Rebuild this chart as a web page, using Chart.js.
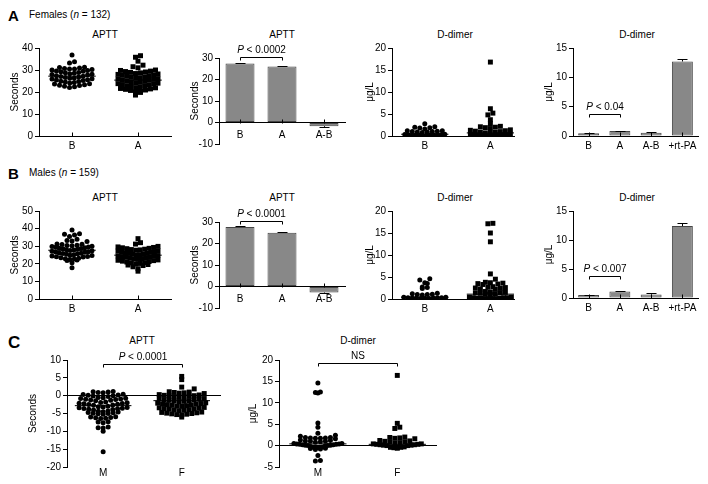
<!DOCTYPE html>
<html>
<head>
<meta charset="utf-8">
<script src="https://cdn.jsdelivr.net/npm/chart.js@4.4.0/dist/chart.umd.min.js"></script>
<style>
  body { margin: 0; background: #fff; }
  #fig { position: relative; width: 708px; height: 484px; font-family: "Liberation Sans", Arial, sans-serif; color: #000; overflow: hidden; }
  #fig canvas { position: absolute; }
  .lt { position: absolute; transform: translateY(-50%); font-size: 10px; line-height: 1; white-space: nowrap; }
  .ct { position: absolute; transform: translate(-50%, -50%); font-size: 10px; line-height: 1; white-space: nowrap; }
  .big { font-size: 15px; font-weight: bold; }
</style>
</head>
<body>
<div id="fig">
  <div class="lt big" style="left:8px;top:15px">A</div>
  <div class="lt" style="left:29px;top:15px">Females (<i>n</i> = 132)</div>
  <div class="lt big" style="left:8px;top:173px">B</div>
  <div class="lt" style="left:29px;top:173px">Males (<i>n</i> = 159)</div>
  <div class="lt big" style="left:8px;top:342px;font-size:17px">C</div>

  <div class="ct" style="left:105px;top:35px">APTT</div>
  <div class="ct" style="left:282px;top:35px">APTT</div>
  <div class="ct" style="left:455px;top:35px">D-dimer</div>
  <div class="ct" style="left:637px;top:35px">D-dimer</div>
  <div class="ct" style="left:105px;top:198px">APTT</div>
  <div class="ct" style="left:282px;top:198px">APTT</div>
  <div class="ct" style="left:455px;top:198px">D-dimer</div>
  <div class="ct" style="left:637px;top:198px">D-dimer</div>
  <div class="ct" style="left:142px;top:341px">APTT</div>
  <div class="ct" style="left:358px;top:341px">D-dimer</div>
</div>
<script>
const FONT = { family: '"Liberation Sans", Arial, sans-serif', size: 10 };
const DOT_STEP = 5;
const ROW_H = 4.6;

// categories
const groupsBA = ['B', 'A'];
const groupsMF = ['M', 'F'];
const barCats = ['B', 'A', 'A-B'];
const barCatsTpa = ['B', 'A', 'A-B', '+rt-PA'];

// Females (n = 132) - APTT, seconds
const femApttB = [22.1, 22.4, 22.6, 22.9, 23.1, 23.3, 23.6, 23.8, 24.1, 24.3, 24.5, 24.8, 24.9, 25.2, 25.4, 25.6, 25.9,
  26.0, 26.2, 26.4, 26.6, 26.8, 27.0, 27.2, 27.4, 27.7, 27.9, 28.1, 28.3, 28.5, 28.7, 28.9, 29.2, 29.4, 29.6, 29.8,
  30.0, 30.2, 30.4, 30.5, 30.7, 30.9, 31.1, 31.3, 33.2, 33.8, 36.8];
const femApttA = [18.6, 19.8, 20.2, 20.4, 20.7, 20.9, 21.2, 21.4, 21.6, 21.9, 22.0, 22.3, 22.5, 22.7, 22.9, 23.1, 23.4,
  23.6, 23.8, 24.0, 24.2, 24.4, 24.6, 24.8, 25.1, 25.3, 25.5, 25.7, 25.9, 26.1, 26.3, 26.5, 26.7, 26.9, 27.2, 27.4,
  27.6, 27.8, 28.0, 28.2, 28.4, 28.7, 28.9, 29.1, 29.3, 29.5, 29.8, 30.0, 31.0, 31.5, 32.2, 34.0, 35.8, 36.5];
const femApttMean = [27.2, 25.4];
const femApttBar = [27.4, 26.1, -1.7];
const femApttSem = [0.3, 0.3, 0.3];
const femApttSig = ['P', '< 0.0002', 30.3];

// Females - D-dimer, ug/L
const femDdB = [0.1, 0.1, 0.15, 0.2, 0.2, 0.2, 0.25, 0.3, 0.3, 0.3, 0.35, 0.4, 0.8, 0.9, 0.9, 1.0, 1.0, 1.1, 1.2, 1.2,
  1.6, 1.8, 1.9, 2.0, 2.1, 2.8];
const femDdA = [0.1, 0.1, 0.1, 0.2, 0.2, 0.2, 0.2, 0.3, 0.3, 0.3, 0.4, 0.4, 0.6, 0.7, 0.8, 0.9, 1.0, 1.1, 1.2, 1.3, 1.4,
  1.7, 1.9, 2.0, 2.1, 2.2, 2.8, 3.7, 4.8, 5.2, 6.2, 16.8];
const femDdMean = [0.4, 0.7];
const femDdBar = [0.45, 0.85, 0.55, 12.7];
const femDdSem = [0.08, 0.08, 0.1, 0.5];
const femDdSig = ['P', '< 0.04', 3.75];

// Males (n = 159) - APTT, seconds
const malApttB = [17.8, 20.6, 21.9, 22.2, 22.4, 22.7, 22.9, 23.2, 23.5, 23.8, 24.0, 24.2, 24.5, 24.7, 24.9, 25.2, 25.4,
  25.7, 25.9, 26.0, 26.2, 26.5, 26.7, 26.9, 27.1, 27.4, 27.6, 27.8, 28.0, 28.2, 28.5, 28.7, 28.9, 29.1, 29.4, 29.6,
  29.9, 30.0, 30.2, 30.4, 30.6, 30.9, 31.1, 31.3, 32.6, 33.0, 33.3, 34.0, 35.5, 36.3, 36.8, 37.1, 39.2];
const malApttA = [15.8, 17.2, 18.3, 19.0, 19.3, 19.6, 19.9, 20.2, 20.5, 20.7, 21.0, 21.3, 21.5, 21.8, 22.0, 22.2, 22.5,
  22.7, 23.0, 23.2, 23.5, 23.7, 23.9, 24.1, 24.3, 24.5, 24.7, 25.0, 25.2, 25.4, 25.6, 25.9, 26.0, 26.3, 26.5, 26.7,
  26.9, 27.2, 27.4, 27.7, 27.9, 28.1, 28.3, 28.6, 28.8, 29.1, 29.3, 29.6, 29.9, 31.2, 32.0, 34.3];
const malApttMean = [27.7, 24.9];
const malApttBar = [27.7, 25.0, -2.8];
const malApttSem = [0.3, 0.3, 0.3];
const malApttSig = ['P', '< 0.0001', 30.4];

// Males - D-dimer, ug/L
const malDdB = [0.1, 0.1, 0.1, 0.2, 0.2, 0.2, 0.3, 0.3, 0.3, 0.4, 0.4, 0.9, 1.0, 1.0, 1.1, 1.2, 1.3, 2.4, 2.6, 2.7,
  3.5, 3.7, 4.3, 4.6];
const malDdA = [0.1, 0.1, 0.1, 0.1, 0.2, 0.2, 0.2, 0.3, 0.3, 0.3, 0.4, 0.4, 1.0, 1.1, 1.2, 1.3, 1.4, 1.4, 1.5, 1.6, 1.7,
  2.2, 2.3, 2.4, 2.5, 2.6, 2.7, 2.8, 3.3, 3.4, 3.5, 3.6, 3.7, 3.8, 4.5, 5.7, 13.0, 15.0, 17.1, 17.2];
const malDdMean = [0.4, 1.1];
const malDdBar = [0.5, 1.1, 0.6, 12.4];
const malDdSem = [0.1, 0.1, 0.2, 0.5];
const malDdSig = ['P', '< 0.007', 3.8];

// C: change A-B, males vs females
const diffApttM = [-15.7, -10.0, -9.1, -9.0, -8.8, -7.6, -7.4, -7.3, -6.4, -6.3, -6.2, -6.1, -6.0, -5.9, -5.2, -5.1, -5.0,
  -4.9, -4.8, -4.7, -4.6, -4.5, -4.4, -4.3, -4.0, -3.9, -3.8, -3.7, -3.6, -3.5, -3.4, -3.3, -3.2, -3.1, -3.0, -2.7,
  -2.6, -2.5, -2.4, -2.3, -2.2, -2.1, -2.0, -1.9, -1.8, -1.4, -1.3, -1.2, -1.1, -1.0, -0.9, -0.8, -0.7, -0.6, -0.5,
  -0.2, -0.1, 0.0, 0.1, 0.2, 0.3, 0.4, 0.8, 0.9, 1.0, 1.1, 1.2];
const diffApttF = [-6.0, -5.4, -5.3, -5.2, -5.1, -5.0, -4.9, -4.8, -4.7, -4.6, -4.2, -4.1, -4.0, -3.9, -3.8, -3.7, -3.6,
  -3.5, -3.4, -3.3, -3.0, -2.9, -2.8, -2.7, -2.6, -2.5, -2.4, -2.3, -2.2, -2.1, -2.0, -1.7, -1.6, -1.5, -1.4, -1.3,
  -1.2, -1.1, -1.0, -0.9, -0.8, -0.5, -0.4, -0.3, -0.2, -0.1, 0.0, 0.1, 0.2, 0.3, 0.6, 0.7, 0.8, 0.9, 1.0, 1.1, 1.9,
  2.4, 4.5, 5.4];
const diffApttMean = [-2.8, -1.4];
const diffApttSig = ['P', '< 0.0001', 9.0];

const diffDdM = [-3.6, -3.5, -2.3, -0.9, -0.8, -0.7, -0.6, -0.5, -0.4, -0.4, -0.3, -0.2, -0.1, 0.0, 0.0, 0.1, 0.1, 0.2,
  0.2, 0.3, 0.3, 0.4, 0.4, 0.5, 0.5, 0.8, 0.9, 1.0, 1.0, 1.1, 1.2, 1.3, 1.6, 1.7, 1.7, 1.8, 1.8, 1.9, 1.9, 2.2, 2.4,
  2.9, 4.3, 5.3, 12.3, 12.4, 12.5, 14.6];
const diffDdF = [-0.6, -0.5, -0.5, -0.4, -0.4, -0.3, 0.0, 0.0, 0.1, 0.1, 0.2, 0.2, 0.3, 0.3, 0.4, 0.4, 0.6, 0.7, 0.8,
  0.9, 1.0, 1.1, 1.2, 1.6, 1.7, 1.8, 1.9, 2.0, 4.0, 4.3, 5.2, 16.4];
const diffDdMean = [0.4, 0.3];
const diffDdSig = ['', 'NS', 19.3];

function line(ctx, x1, y1, x2, y2) {
  ctx.beginPath();
  ctx.moveTo(x1, y1);
  ctx.lineTo(x2, y2);
  ctx.stroke();
}

// error bars, upward x ticks, significance brackets
const extras = {
  id: 'extras',
  defaults: {},
  afterDatasetsDraw(chart, args, opts) {
    const ctx = chart.ctx, xs = chart.scales.x, ys = chart.scales.y;
    ctx.save();
    ctx.strokeStyle = '#000';
    ctx.fillStyle = '#000';
    ctx.lineWidth = 1;
    if (opts.sem) {
      const vals = chart.data.datasets[0].data;
      chart.getDatasetMeta(0).data.forEach((bar, i) => {
        const v = vals[i], dir = v < 0 ? -1 : 1;
        const x = Math.round(bar.x) + 0.5;
        const y1 = ys.getPixelForValue(v);
        const y2 = Math.round(ys.getPixelForValue(v + dir * opts.sem[i])) + 0.5;
        line(ctx, x, y1, x, y2);
        line(ctx, x - 5, y2, x + 5, y2);
      });
    }
    if (opts.ticksUp) {
      const y0 = Math.round(ys.getPixelForValue(0)) + 0.5;
      xs.ticks.forEach((t, i) => {
        const x = Math.round(xs.getPixelForTick(i)) + 0.5;
        line(ctx, x, y0, x, y0 - 4);
      });
    }
    if (opts.sig) {
      const [p, txt, yv] = opts.sig;
      const xa = Math.round(xs.getPixelForValue(opts.sigAt[0])) + 0.5;
      const xb = Math.round(xs.getPixelForValue(opts.sigAt[1])) + 0.5;
      const yb = Math.round(ys.getPixelForValue(yv)) + 0.5;
      ctx.beginPath();
      ctx.moveTo(xa, yb + 3);
      ctx.lineTo(xa, yb);
      ctx.lineTo(xb, yb);
      ctx.lineTo(xb, yb + 3);
      ctx.stroke();
      ctx.textBaseline = 'middle';
      const fam = '10px "Liberation Sans", Arial, sans-serif';
      ctx.font = 'italic ' + fam;
      const wp = p ? ctx.measureText(p + ' ').width : 0;
      ctx.font = fam;
      const wt = ctx.measureText(txt).width;
      const sx = (xa + xb) / 2 - (wp + wt) / 2, ty = yb - 7;
      if (p) {
        ctx.font = 'italic ' + fam;
        ctx.fillText(p, sx, ty);
        ctx.font = fam;
      }
      ctx.fillText(txt, sx + wp, ty);
    }
    ctx.restore();
  }
};
Chart.register(extras);

function makeCanvas(left, top, width, height) {
  const c = document.createElement('canvas');
  c.width = width;
  c.height = height;
  c.style.left = left + 'px';
  c.style.top = top + 'px';
  document.getElementById('fig').appendChild(c);
  return c;
}

function yAxis(o) {
  return {
    min: o.yMin, max: o.yMax,
    ticks: { stepSize: o.step, color: '#000', font: FONT, padding: 2 },
    grid: {
      display: true, drawOnChartArea: !!o.zeroLine, drawTicks: true, tickLength: 4, tickColor: '#000',
      color: c => (o.zeroLine && c.tick && c.tick.value === 0) ? '#000' : 'rgba(0,0,0,0)'
    },
    border: { display: true, color: '#000', width: 1 },
    title: { display: true, text: o.yTitle, color: '#000', font: FONT, padding: { top: 4, bottom: 0 } },
    afterFit: s => { s.width = o.axisW; }
  };
}

// spread points of each group sideways, row by row, like a dot plot
// (within a row the points go from the centre outwards, alternating sides)
function swarm(chart, maxW) {
  const xs = chart.scales.x, ys = chart.scales.y;
  const unit = xs.getPixelForValue(2) - xs.getPixelForValue(1);
  const base = ys.getPixelForValue(Math.max(0, ys.min));
  chart.data.datasets.filter(d => d.swarm).forEach(ds => {
    const rows = new Map();
    ds.data.forEach(p => {
      const r = Math.round((base - ys.getPixelForValue(p.y)) / ROW_H);
      if (!rows.has(r)) rows.set(r, []);
      rows.get(r).push(p);
    });
    rows.forEach(row => {
      const n = row.length;
      const step = n > 1 ? Math.min(DOT_STEP, maxW / (n - 1)) : 0;
      const slots = row.map((p, i) => i - (n - 1) / 2)
        .sort((a, b) => Math.abs(a) - Math.abs(b) || a - b);
      row.forEach((p, i) => { p.x += slots[i] * step / unit; });
    });
  });
  chart.update('none');
}

function scatterPanel(o) {
  const canvas = makeCanvas(o.left, o.top, o.w, o.h);
  const marks = ['circle', 'rect'];
  const datasets = [];
  o.groups.forEach((vals, g) => {
    datasets.push({
      data: [{ x: g + 1 - 0.36, y: o.means[g] }, { x: g + 1 + 0.36, y: o.means[g] }],
      showLine: true, borderColor: '#000', borderWidth: 1, pointRadius: 0, order: 0
    });
    datasets.push({
      data: vals.map(v => ({ x: g + 1, y: v })),
      pointStyle: marks[g], pointRadius: marks[g] === 'rect' ? 3.5 : 2.5,
      backgroundColor: '#000', borderWidth: 0, order: 1, swarm: true
    });
  });
  const chart = new Chart(canvas, {
    type: 'scatter',
    data: { datasets },
    options: {
      responsive: false, animation: false, devicePixelRatio: 1,
      layout: { padding: { top: o.padTop, right: 3, left: 0, bottom: 0 } },
      plugins: {
        legend: { display: false }, tooltip: { enabled: false },
        extras: { ticksUp: o.xBorder, sig: o.sig, sigAt: [1, 2] }
      },
      scales: {
        x: {
          type: 'linear', min: o.xMin, max: o.xMax,
          afterBuildTicks: s => { s.ticks = o.names.map((n, i) => ({ value: i + 1 })); },
          ticks: { color: '#000', font: FONT, padding: o.labelPad, maxRotation: 0, autoSkip: false,
            callback: v => o.names[Math.round(v) - 1] },
          grid: { display: false, drawTicks: false },
          border: { display: o.xBorder, color: '#000', width: 1 },
          afterFit: s => { s.height = o.xH; }
        },
        y: yAxis(o)
      }
    }
  });
  swarm(chart, o.maxW);
}

function barPanel(o) {
  const canvas = makeCanvas(o.left, o.top, o.w, o.h);
  new Chart(canvas, {
    type: 'bar',
    data: {
      labels: o.cats,
      datasets: [{
        data: o.vals, backgroundColor: '#888888', borderColor: '#454545', borderWidth: 1,
        borderSkipped: false, barPercentage: o.barPct, categoryPercentage: 1
      }]
    },
    options: {
      responsive: false, animation: false, devicePixelRatio: 1,
      layout: { padding: { top: o.padTop, right: 3, left: 0, bottom: o.padBottom } },
      plugins: {
        legend: { display: false }, tooltip: { enabled: false },
        extras: { sem: o.sem, sig: o.sig, sigAt: [0, 1], ticksUp: true }
      },
      scales: {
        x: {
          position: o.zeroAxis ? { y: 0 } : 'bottom',
          ticks: { color: '#000', font: FONT, padding: o.labelPad, maxRotation: 0, autoSkip: false },
          grid: { display: false, drawTicks: false },
          border: { display: true, color: '#000', width: 1 },
          afterFit: s => { s.height = 20; }
        },
        y: yAxis(o)
      }
    }
  });
}

// row A: females
scatterPanel({ left: 5, top: 40, w: 170, h: 116, padTop: 8, axisW: 34, xH: 20, labelPad: 4, xBorder: true,
  xMin: 0.5, xMax: 2.5, yMin: 0, yMax: 40, step: 10, yTitle: 'Seconds', names: groupsBA,
  groups: [femApttB, femApttA], means: femApttMean, maxW: 40 });
barPanel({ left: 185, top: 38, w: 163, h: 114, padTop: 20, padBottom: 6, axisW: 34, labelPad: 7, zeroAxis: true,
  yMin: -10, yMax: 30, step: 10, yTitle: 'Seconds', cats: barCats, vals: femApttBar, sem: femApttSem,
  barPct: 0.69, sig: femApttSig });
scatterPanel({ left: 360, top: 40, w: 158, h: 116, padTop: 8, axisW: 32, xH: 20, labelPad: 4, xBorder: true,
  xMin: 0.5, xMax: 2.36, yMin: 0, yMax: 20, step: 5, yTitle: 'μg/L', names: groupsBA,
  groups: [femDdB, femDdA], means: femDdMean, maxW: 40 });
barPanel({ left: 539, top: 40, w: 162, h: 116, padTop: 8, padBottom: 0, axisW: 34, labelPad: 4, zeroAxis: false,
  yMin: 0, yMax: 15, step: 5, yTitle: 'μg/L', cats: barCatsTpa, vals: femDdBar, sem: femDdSem,
  barPct: 0.67, sig: femDdSig });

// row B: males
scatterPanel({ left: 5, top: 203, w: 170, h: 116, padTop: 8, axisW: 34, xH: 20, labelPad: 4, xBorder: true,
  xMin: 0.5, xMax: 2.5, yMin: 0, yMax: 50, step: 10, yTitle: 'Seconds', names: groupsBA,
  groups: [malApttB, malApttA], means: malApttMean, maxW: 40 });
barPanel({ left: 185, top: 202, w: 163, h: 114, padTop: 20, padBottom: 6, axisW: 34, labelPad: 7, zeroAxis: true,
  yMin: -10, yMax: 30, step: 10, yTitle: 'Seconds', cats: barCats, vals: malApttBar, sem: malApttSem,
  barPct: 0.69, sig: malApttSig });
scatterPanel({ left: 360, top: 203, w: 158, h: 116, padTop: 8, axisW: 32, xH: 20, labelPad: 4, xBorder: true,
  xMin: 0.5, xMax: 2.36, yMin: 0, yMax: 20, step: 5, yTitle: 'μg/L', names: groupsBA,
  groups: [malDdB, malDdA], means: malDdMean, maxW: 42 });
barPanel({ left: 539, top: 203, w: 162, h: 115, padTop: 8, padBottom: 0, axisW: 34, labelPad: 4, zeroAxis: false,
  yMin: 0, yMax: 15, step: 5, yTitle: 'μg/L', cats: barCatsTpa, vals: malDdBar, sem: malDdSem,
  barPct: 0.67, sig: malDdSig });

// row C: males vs females, change after - before
scatterPanel({ left: 23, top: 345, w: 202, h: 140, padTop: 15, axisW: 44, xH: 18, labelPad: 0, xBorder: false,
  zeroLine: true, xMin: 0.54, xMax: 2.5, yMin: -20, yMax: 10, step: 5, yTitle: 'Seconds', names: groupsMF,
  groups: [diffApttM, diffApttF], means: diffApttMean, maxW: 48, sig: diffApttSig });
scatterPanel({ left: 243, top: 345, w: 198, h: 140, padTop: 15, axisW: 36, xH: 18, labelPad: 0, xBorder: false,
  zeroLine: true, xMin: 0.51, xMax: 2.5, yMin: -5, yMax: 20, step: 5, yTitle: 'μg/L', names: groupsMF,
  groups: [diffDdM, diffDdF], means: diffDdMean, maxW: 48, sig: diffDdSig });
</script>
</body>
</html>
